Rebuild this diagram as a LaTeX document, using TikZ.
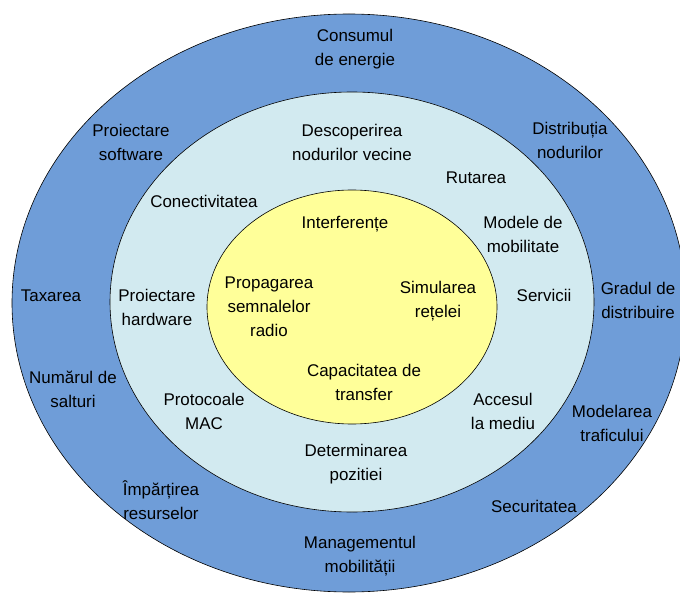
\documentclass[tikz,border=0pt]{standalone}
\usepackage{fontspec}
\setmainfont{Liberation Sans}
\usetikzlibrary{positioning}

\definecolor{outerBlue}{RGB}{111,157,216}
\definecolor{middleCyan}{RGB}{210,234,240}
\definecolor{innerYellow}{RGB}{255,255,153}

\begin{document}
\begin{tikzpicture}[x=1bp, y=-1bp,
		every node/.style={align=center, inner sep=0pt},
		topic/.style={font=\fontsize{17}{24}\selectfont, text=black},
		ring/.style={draw=black, line width=0.6pt}
	]
	\useasboundingbox (0,0) rectangle (680,594);

	% Rings
	\draw[ring, fill=outerBlue] (349,303) ellipse [x radius=337, y radius=289];
	\draw[ring, fill=middleCyan] (352,302) ellipse [x radius=242, y radius=210];
	\draw[ring, fill=innerYellow] (352,307) ellipse [x radius=145, y radius=117];

	% Outer ring
	\node[topic] (consum) at (355,49) {Consumul\\de energie};
	\node[topic] (softw) at (131,142) {Proiectare\\software};
	\node[topic] (distrib) at (570,140) {Distribuția\\nodurilor};
	\node[topic] (taxare) at (51,296) {Taxarea};
	\node[topic] (gradul) at (638,300) {Gradul de\\distribuire};
	\node[topic] (salturi) at (73,389) {Numărul de\\salturi};
	\node[topic] (trafic) at (612,423) {Modelarea\\traficului};
	\node[topic] (resurse) at (161,500) {Împărțirea\\resurselor};
	\node[topic] (secur) at (534,506) {Securitatea};
	\node[topic] (mobil) at (360,556) {Managementul\\mobilității};

	% Middle ring
	\node[topic] (descop) at (352,142) {Descoperirea\\nodurilor vecine};
	\node[topic] (rutare) at (476,178) {Rutarea};
	\node[topic] (conect) at (204,201) {Conectivitatea};
	\node[topic] (modele) at (523,234) {Modele de\\mobilitate};
	\node[topic] (hardw) at (157,307) {Proiectare\\hardware};
	\node[topic] (servicii) at (544,295) {Servicii};
	\node[topic] (mac) at (204,411) {Protocoale\\MAC};
	\node[topic] (acces) at (503,411) {Accesul\\la mediu};
	\node[topic] (pozitie) at (356,464) {Determinarea\\pozitiei};

	% Inner ring
	\node[topic] (interf) at (345,224) {Interferențe};
	\node[topic] (propag) at (269,307) {Propagarea\\semnalelor\\radio};
	\node[topic] (simul) at (438,301) {Simularea\\rețelei};
	\node[topic] (capac) at (364,382) {Capacitatea de\\transfer};
\end{tikzpicture}
\end{document}
